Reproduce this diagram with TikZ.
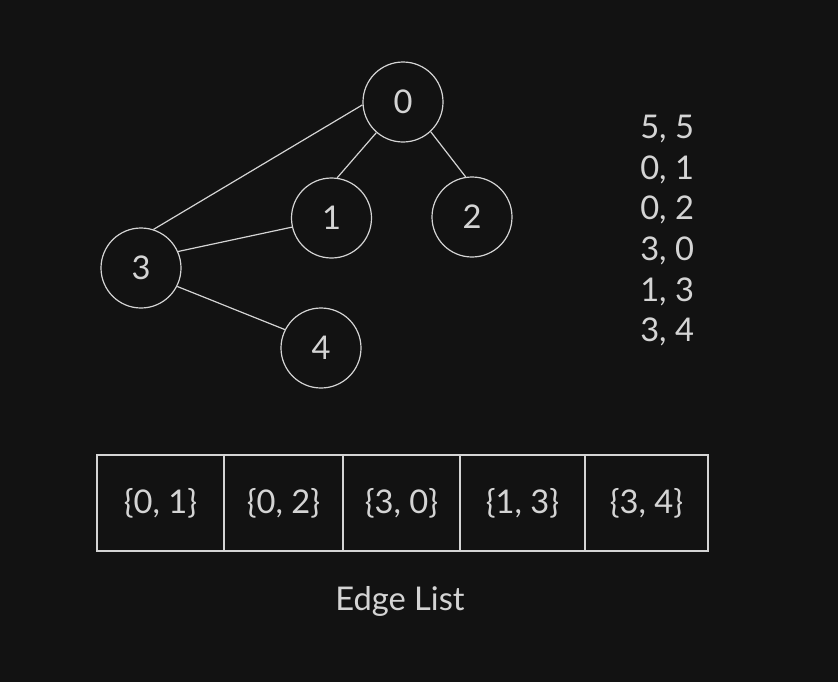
\documentclass[tikz,border=0pt]{standalone}
\usepackage{fontspec}
\setmainfont{Lato}
\usepackage{xcolor}
\usetikzlibrary{calc,positioning,shapes}

\definecolor{bgcol}{HTML}{121212}
\definecolor{inkcol}{HTML}{D4D4D4}
\newcommand{\bigtxt}{\fontsize{24.5}{28}\selectfont}

\tikzset{
	vert/.style={draw=inkcol, circle, minimum size=60pt, inner sep=0pt, line width=0.9pt, text=inkcol, font=\bigtxt},
	link/.style={draw=inkcol, line width=0.9pt},
	cell/.style={draw=inkcol, rectangle, minimum height=72pt, inner sep=0pt, line width=0.9pt, text=inkcol, font=\bigtxt},
	txt/.style={text=inkcol, inner sep=0pt, font=\bigtxt}
}

\begin{document}
\begin{tikzpicture}[x=0.75pt, y=-0.75pt]
			\fill[bgcol] (0,0) rectangle (838,682);
			\useasboundingbox (0,0) rectangle (838,682);

			% graph
			\node[vert] (v0) at(403, 102){0};
				\node[vert] (v1) at(331.5, 218){1};
				\node[vert] (v2) at(472, 217){2};
			\node[vert] (v3) at(141, 268){3};
				\node[vert] (v4) at(321, 348){4};

				\draw[link] (v3.72) to (v0.184);
				\draw[link] (v0.229) to (v1.82);
				\draw[link] (v0.313) to (v2.99);
				\draw[link] (v3.24) to (v1.193);
				\draw[link] (v3.333) to (v4.153);

			% input
			\node[txt, anchor=west] (r1) at(640, 129){5, 5};
			\node[txt, anchor=west] (r2) at(640, 170){0, 1};
			\node[txt, anchor=west] (r3) at(640, 210){0, 2};
			\node[txt, anchor=west] (r4) at(640, 251){3, 0};
			\node[txt, anchor=west] (r5) at(640, 292){1, 3};
			\node[txt, anchor=west] (r6) at(640, 332){3, 4};

			% edge list
			\node[cell, minimum width=95.25pt] (e1) at(160.5, 503){\{0, 1\}};
			\node[cell, minimum width=89.25pt] (e2) at(283.5, 503){\{0, 2\}};
			\node[cell, minimum width=87.75pt] (e3) at(401.5, 503){\{3, 0\}};
			\node[cell, minimum width=93.75pt] (e4) at(522.5, 503){\{1, 3\}};
			\node[cell, minimum width=92.25pt] (e5) at(646.5, 503){\{3, 4\}};

			\node[txt] (cap) at(400, 601){Edge List};

		\end{tikzpicture}
\end{document}
